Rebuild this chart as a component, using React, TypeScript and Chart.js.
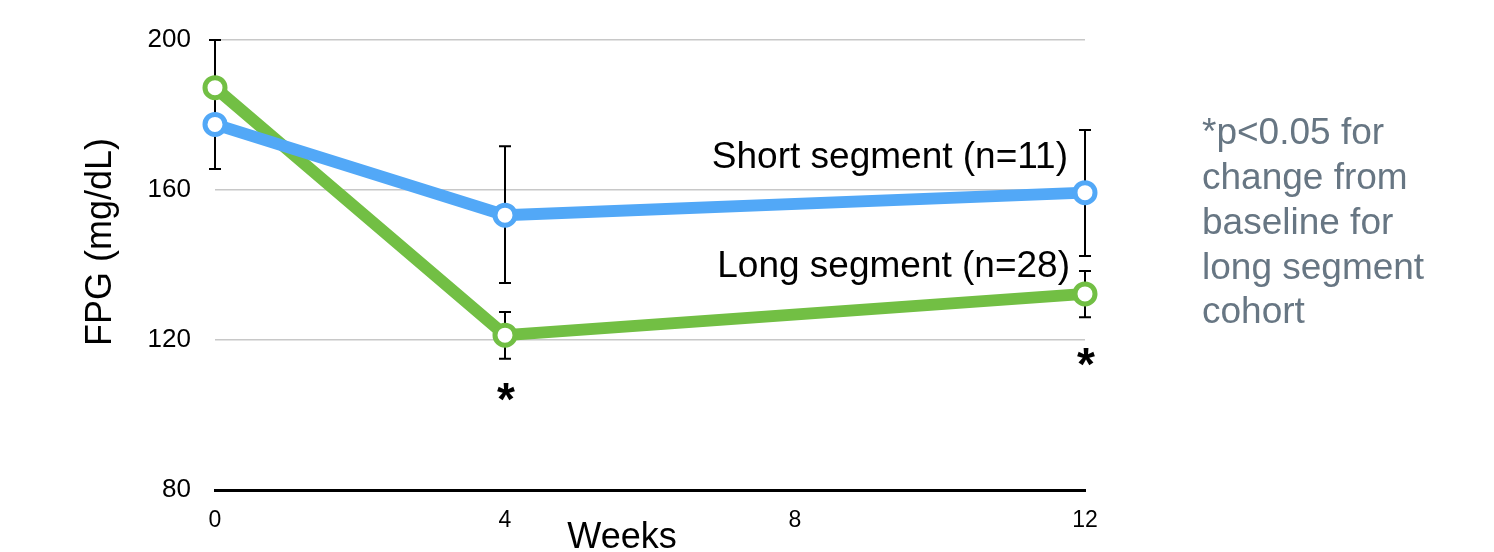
import React, { useEffect, useRef } from "react";
import { Chart, registerables } from "chart.js";

Chart.register(...registerables);

const weeks = [0, 4, 12];
const xTicks = [0, 4, 8, 12];
const yTicks = [80, 120, 160, 200];

const shortMean = [177.5, 153.3, 159.3];
const shortLow = [165.6, 135.2, 142.4];
const shortHigh = [189.5, 171.7, 176.0];

const longMean = [187.3, 121.3, 132.3];
const longLow = [175.0, 115.0, 126.1];
const longHigh = [200.0, 127.5, 138.4];

const shortLabel = "Short segment (n=11)";
const longLabel = "Long segment (n=28)";
const sigWeeks = [4, 12];
const sigValues = [104, 113.3];
const noteLines = ["*p<0.05 for", "change from", "baseline for", "long segment", "cohort"];
const xTitle = "Weeks";
const yTitle = "FPG (mg/dL)";

const FONT = "'Liberation Sans', Arial, Helvetica, sans-serif";
const BLUE = "#52a8f7";
const GREEN = "#72bf44";

const overlay = {
  id: "overlay",
  beforeDatasetsDraw(chart: any) {
    const { ctx, scales } = chart;
    const x = scales.x;
    const y = scales.y;
    ctx.save();
    ctx.strokeStyle = "#000";
    ctx.lineWidth = 2;
    const bars = [
      [shortLow, shortHigh],
      [longLow, longHigh],
    ];
    bars.forEach(([lo, hi]) => {
      weeks.forEach((w, i) => {
        const px = x.getPixelForValue(w);
        const p1 = y.getPixelForValue(lo[i]);
        const p2 = y.getPixelForValue(hi[i]);
        ctx.beginPath();
        ctx.moveTo(px, p1);
        ctx.lineTo(px, p2);
        ctx.moveTo(px - 6, p1);
        ctx.lineTo(px + 6, p1);
        ctx.moveTo(px - 6, p2);
        ctx.lineTo(px + 6, p2);
        ctx.stroke();
      });
    });
    ctx.restore();
  },
  afterDatasetsDraw(chart: any) {
    const { ctx, scales, chartArea } = chart;
    const x = scales.x;
    const y = scales.y;
    ctx.save();
    ctx.fillStyle = "#000";
    ctx.textBaseline = "middle";
    ctx.textAlign = "right";
    ctx.font = `37px ${FONT}`;
    ctx.fillText(shortLabel, chartArea.right - 17, 158);
    ctx.fillText(longLabel, chartArea.right - 15, 267);

    ctx.textAlign = "center";
    ctx.font = `bold 46px ${FONT}`;
    sigWeeks.forEach((w, i) => {
      ctx.fillText("*", x.getPixelForValue(w) + 1, y.getPixelForValue(sigValues[i]) + 2);
    });

    ctx.font = `36px ${FONT}`;
    ctx.fillText(xTitle, 622, 538);

    ctx.save();
    ctx.translate(101, 242);
    ctx.rotate(-Math.PI / 2);
    ctx.fillText(yTitle, 0, 0);
    ctx.restore();

    ctx.font = `37px ${FONT}`;
    ctx.fillStyle = "#677683";
    ctx.textAlign = "left";
    noteLines.forEach((line, i) => {
      ctx.fillText(line, 1202, 134 + i * 44.8);
    });
    ctx.restore();
  },
};

export default function App() {
  const ref = useRef<HTMLCanvasElement | null>(null);
  useEffect(() => {
    if (!ref.current) return;
    const chart = new Chart(ref.current, {
      type: "line",
      data: {
        datasets: [
          {
            label: shortLabel,
            data: weeks.map((w, i) => ({ x: w, y: shortMean[i] })),
            borderColor: BLUE,
            borderWidth: 12,
            pointRadius: 10,
            pointBorderWidth: 5,
            pointBackgroundColor: "#fff",
            pointBorderColor: BLUE,
            tension: 0,
            clip: false,
          },
          {
            label: longLabel,
            data: weeks.map((w, i) => ({ x: w, y: longMean[i] })),
            borderColor: GREEN,
            borderWidth: 12,
            pointRadius: 10,
            pointBorderWidth: 5,
            pointBackgroundColor: "#fff",
            pointBorderColor: GREEN,
            tension: 0,
            clip: false,
          },
        ],
      },
      options: {
        animation: false,
        responsive: true,
        maintainAspectRatio: false,
        layout: { padding: { left: 0, right: 409, top: 40, bottom: 0 } },
        plugins: { legend: { display: false }, tooltip: { enabled: false } },
        scales: {
          x: {
            type: "linear",
            min: 0,
            max: 12,
            afterBuildTicks: (s: any) => {
              s.ticks = xTicks.map((v) => ({ value: v }));
            },
            afterFit: (s: any) => {
              s.height = 62;
            },
            grid: { display: false, drawTicks: false },
            border: { display: true, color: "#000", width: 3 },
            ticks: {
              color: "#000",
              font: { family: FONT, size: 23 },
              padding: 17,
              maxRotation: 0,
            },
          },
          y: {
            type: "linear",
            min: 80,
            max: 200,
            afterBuildTicks: (s: any) => {
              s.ticks = yTicks.map((v) => ({ value: v }));
            },
            afterFit: (s: any) => {
              s.width = 215;
            },
            grid: { color: "#c8c8c8", lineWidth: 1.5, drawTicks: false },
            border: { display: false },
            ticks: {
              color: "#000",
              font: { family: FONT, size: 26 },
              padding: 24,
            },
          },
        },
      },
      plugins: [overlay],
    });
    return () => chart.destroy();
  }, []);
  return (
    <div style={{ position: "fixed", left: 0, top: 0, width: 1494, height: 552, background: "#fff" }}>
      <canvas ref={ref} />
    </div>
  );
}
